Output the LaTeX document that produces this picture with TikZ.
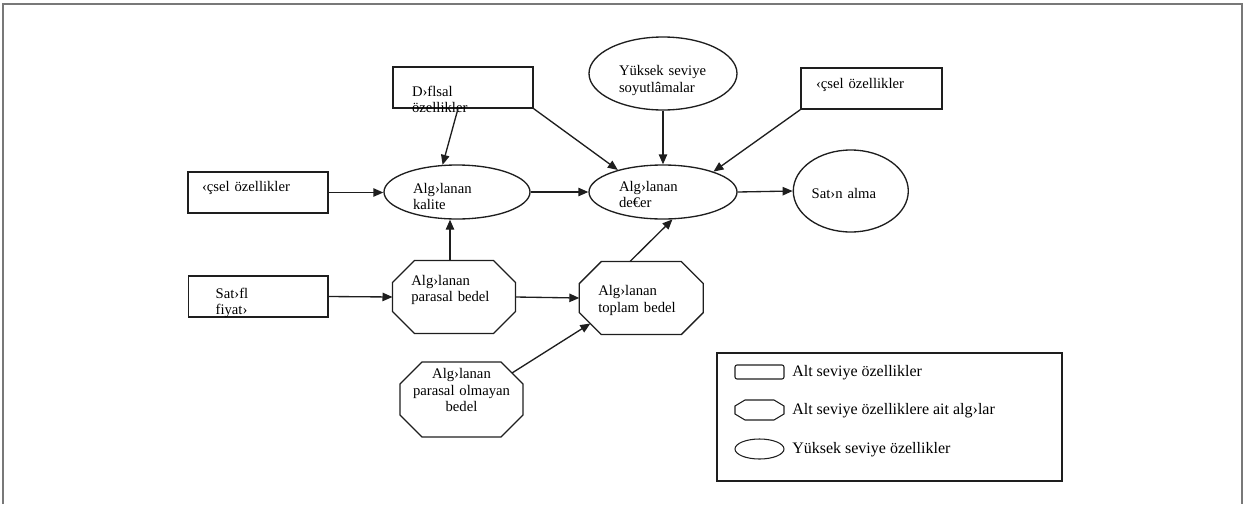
\documentclass[tikz,border=0pt]{standalone}
\usepackage{fontspec}
\setmainfont{Liberation Serif}
\usetikzlibrary{arrows.meta,shapes.geometric,calc}
\definecolor{ink}{RGB}{30,30,30}
\definecolor{framegray}{RGB}{120,120,120}
\newcommand\octpath[3]{%
  \draw[base] ([xshift=#2]#1.north west) -- ([xshift=-#2]#1.north east)
    -- ([yshift=-#3]#1.north east) -- ([yshift=#3]#1.south east)
    -- ([xshift=-#2]#1.south east) -- ([xshift=#2]#1.south west)
    -- ([yshift=#3]#1.south west) -- ([yshift=-#3]#1.north west) -- cycle;}
\begin{document}
\begin{tikzpicture}[x=0.75pt,y=-0.75pt,
  every node/.style={inner sep=0pt, font=\fontsize{11}{12.5}\selectfont},
  base/.style={draw=ink, line width=1pt},
  rbox/.style={base, rectangle, align=left},
  ell/.style={base, ellipse, align=left},
  oct/.style={rectangle, outer sep=0pt, align=left},
  arr/.style={draw=ink, line width=1pt, -{Triangle[length=7.5pt,width=6.3pt]}},
  legtext/.style={anchor=base west, font=\fontsize{12}{14}\selectfont},
]
\useasboundingbox (0,0) rectangle (1246,504);
\draw[framegray, line width=1.5pt] (3,504) -- (3,4) -- (1242,4) -- (1242,504);

% low-level attributes (rectangles)
\node[rbox, minimum width=105pt, minimum height=30.75pt, text width=76.5pt,
      text height=18.75pt, text depth=6pt] (dis) at (463,87.5) {D›flsal\\özellikler};
\node[rbox, minimum width=105pt, minimum height=30.75pt, text width=84pt,
      text height=9.5pt, text depth=11.75pt] (icl) at (258,192.5) {‹çsel özellikler};
\node[rbox, minimum width=105.75pt, minimum height=30.75pt, text width=83.25pt,
      text height=9.5pt, text depth=10.25pt] (icr) at (871.5,88.5) {‹çsel özellikler};
\node[rbox, minimum width=104.5pt, minimum height=30.75pt, text width=64pt,
      text height=12.5pt, text depth=10.25pt] (sat) at (258.3,296.5) {Sat›fl\\fiyat›};

% high-level attributes (ellipses)
\node[ell, minimum width=109.5pt, minimum height=40.5pt, text width=66pt,
      text height=13.5pt, text depth=12pt] (kal) at (457,192) {Alg›lanan\\kalite};
\node[ell, minimum width=111pt, minimum height=40.5pt, text width=66pt,
      text height=12.5pt, text depth=13.6pt] (deg) at (663,192) {Alg›lanan\\de€er};
\node[ell, minimum width=111pt, minimum height=54.75pt, text width=66pt,
      text height=12.5pt, text depth=9.75pt] (yuk) at (663,73.5) {Yüksek seviye\\soyutlâmalar};
\node[ell, minimum width=86.25pt, minimum height=61.5pt, text width=58.6pt,
      text height=15pt, text depth=3.5pt] (sal) at (850.8,191) {Sat›n alma};

% perceptions (octagons)
\node[oct, minimum width=92.25pt, minimum height=54.75pt, text width=64pt,
      text height=10pt, text depth=27.6pt] (par) at (454,297) {Alg›lanan\\parasal bedel};
\node[oct, minimum width=93pt, minimum height=54.75pt, text width=64.5pt,
      text height=10pt, text depth=13.25pt] (top) at (641.3,298) {Alg›lanan\\toplam bedel};
\node[oct, align=center, minimum width=92.25pt, minimum height=56.25pt, text width=76pt,
      text height=11pt, text depth=42.7pt] (olm) at (461.5,399.5) {Alg›lanan\\parasal olmayan\\bedel};
\octpath{par}{16.5pt}{16.5pt}
\octpath{top}{16.5pt}{16.5pt}
\octpath{olm}{16.5pt}{16.5pt}

% connectors
\draw[arr] ([xshift=-3.75pt]dis.south) -- (kal.118);
\draw[arr] (dis.south east) -- (deg.154);
\draw[arr] (yuk.south) -- (deg.north);
\draw[arr] (icr.south west) -- (deg.22);
\draw[arr] (icl.east) -- (icl.east -| kal.west);
\draw[arr] (kal.east) -- (deg.west);
\draw[arr] (deg.east) -- (sal.west);
\draw[arr] ([xshift=-3pt]par.north) -- ([xshift=-3pt]par.north |- kal.south);
\draw[arr] (sat.east) -- (par.west);
\draw[arr] (par.east) -- (top.west);
\draw[arr] ([xshift=-8.5pt]top.north) -- (deg.289);
\draw[arr] ([xshift=-8.25pt,yshift=-8.25pt]olm.north east) -- ([xshift=8.25pt,yshift=8.25pt]top.south west);

% legend
\node[base, rectangle, minimum width=258.75pt, minimum height=96pt] (leg) at (889.5,417) {};
\node[draw=ink, line width=0.8pt, rectangle, rounded corners=1.5pt,
      minimum width=36.75pt, minimum height=10.5pt] (lr) at (759.5,372) {};
\node[oct, minimum width=36.75pt, minimum height=15pt] (lo) at (759.5,410) {};
\draw[draw=ink, line width=0.8pt] ([xshift=7.5pt]lo.north west) -- ([xshift=-7.5pt]lo.north east)
    -- ([yshift=-4.5pt]lo.north east) -- ([yshift=4.5pt]lo.south east)
    -- ([xshift=-7.5pt]lo.south east) -- ([xshift=7.5pt]lo.south west)
    -- ([yshift=4.5pt]lo.south west) -- ([yshift=-4.5pt]lo.north west) -- cycle;
\node[draw=ink, line width=0.8pt, ellipse, minimum width=36.75pt, minimum height=15pt] (le) at (759.5,449) {};
\node[legtext] (lt1) at (792,376) {Alt seviye özellikler};
\node[legtext] (lt2) at (792,414.5) {Alt seviye özelliklere ait alg›lar};
\node[legtext] (lt3) at (792,453) {Yüksek seviye özellikler};
\end{tikzpicture}
\end{document}
